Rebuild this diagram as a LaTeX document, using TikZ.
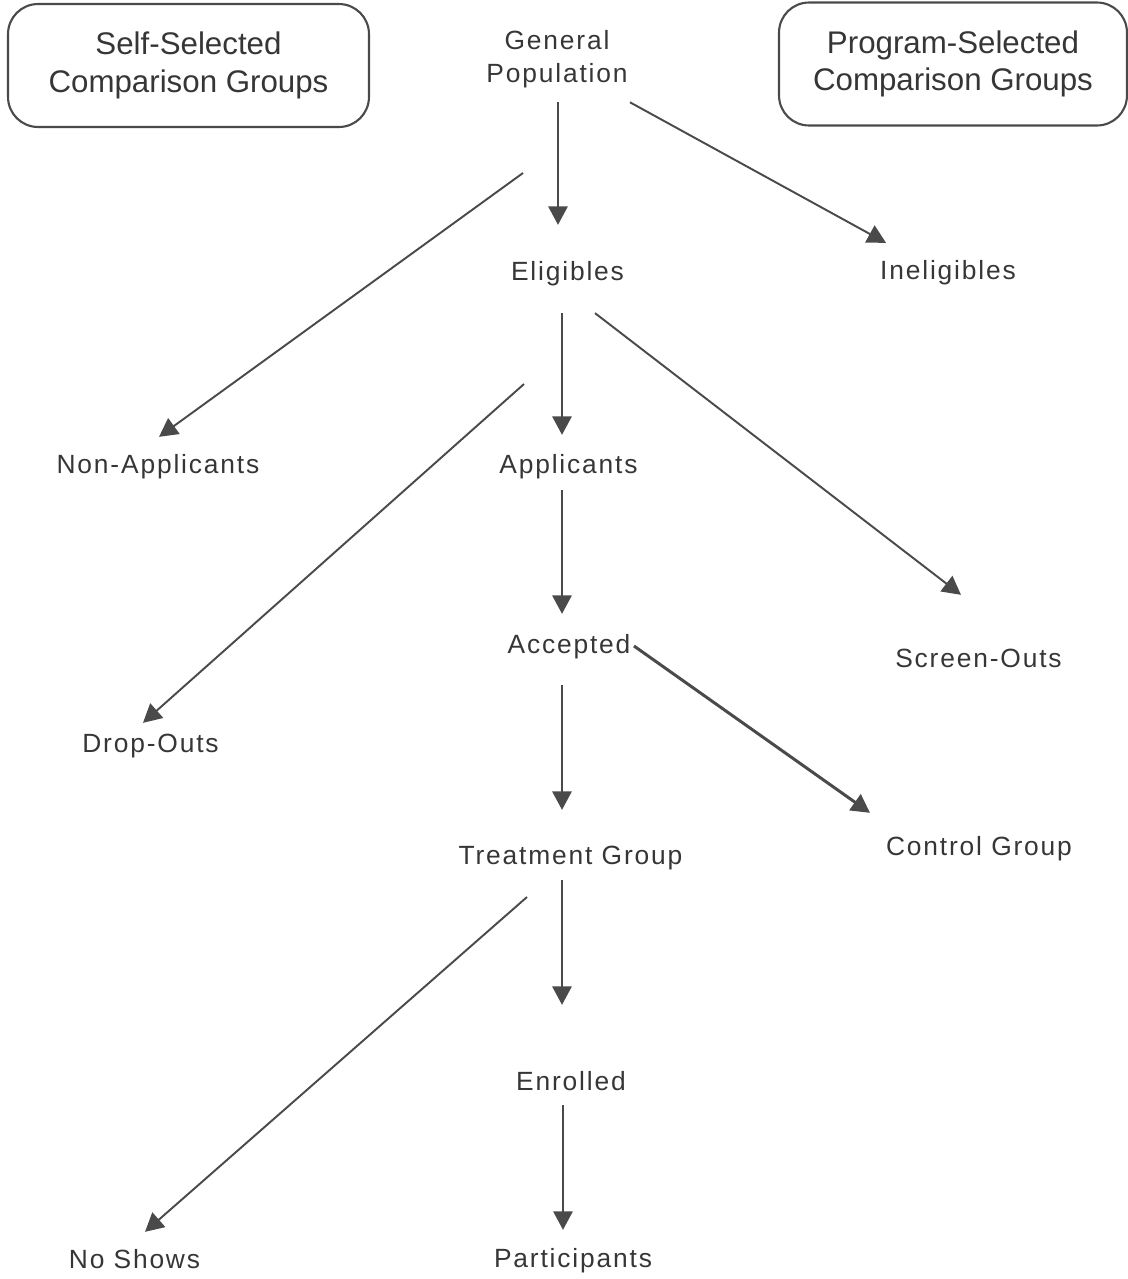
\documentclass[tikz,border=0pt]{standalone}
\usepackage{fontspec}
\setmainfont{Liberation Sans}
\newfontfamily\stagefont[LetterSpace=7]{Liberation Sans}
\usepackage{tikz}
\usetikzlibrary{arrows.meta}
\definecolor{ink}{HTML}{363636}
\definecolor{rule}{HTML}{4A4A4A}
\tikzstyle{stage} = [font=\stagefont\fontsize{15}{18.7}\selectfont, text=ink, inner sep=0pt, text height=11pt, text depth=3pt, anchor=base]
\tikzstyle{selbox} = [draw=rule, line width=1.2pt, rounded corners=0.6cm, align=center, text=ink, font=\fontsize{17.8}{21.5}\selectfont, minimum height=2.46cm]
\tikzstyle{flow} = [draw=rule, line width=1.1pt, -{Triangle[length=10.5pt,width=11pt]}]

\begin{document}
\begin{tikzpicture}[x=0.02cm, y=-0.02cm]
    \useasboundingbox (0,0) rectangle (1127,1279);
    \node[selbox, minimum width=7.22cm] (self) at (188.5,65.5) {Self-Selected\\Comparison Groups};
    \node[selbox, minimum width=6.96cm] (prog) at (953,64) {Program-Selected\\Comparison Groups};
    \node[font=\stagefont\fontsize{15}{18.7}\selectfont, text=ink, inner sep=0pt, text depth=3pt, align=center, anchor=south] (gp) at (557,88.3) {General\\Population};
    \node[stage] (elig) at (567.5,280) {Eligibles};
    \node[stage] (inel) at (948,279) {Ineligibles};
    \node[stage] (nonapp) at (158,473) {Non-Applicants};
    \node[stage] (appl) at (568.5,473) {Applicants};
    \node[stage] (acc) at (569,653) {Accepted};
    \node[stage] (scr) at (978.5,667) {Screen-Outs};
    \node[stage] (drop) at (150.5,752) {Drop-Outs};
    \node[stage] (treat) at (570.5,864) {Treatment Group};
    \node[stage] (ctrl) at (979,855) {Control Group};
    \node[stage] (enr) at (571,1090) {Enrolled};
    \node[stage] (noshow) at (134.5,1268) {No Shows};
    \node[stage] (part) at (573,1267) {Participants};
    \coordinate (nonappfrom) at (523,173);
    \coordinate (dropfrom) at (524,384);
    \coordinate (noshowfrom) at (527,897);
    \draw[flow] ([shift={(1,14)}]gp.south) -- ([shift={(-9.5,-35.5)}]elig.north);
    \draw[flow] ([shift={(73,14)}]gp.south) -- ([shift={(-62,-16.5)}]inel.north);
    \draw[flow] (nonappfrom) -- ([shift={(1,-16.5)}]nonapp.north);
    \draw[flow] ([shift={(-5.5,27.5)}]elig.south) -- ([shift={(-6.5,-18.5)}]appl.north);
    \draw[flow] (dropfrom) -- ([shift={(-7.5,-9.5)}]drop.north);
    \draw[flow] ([shift={(27.5,27.5)}]elig.south) -- ([shift={(-17.5,-52.5)}]scr.north);
    \draw[flow] ([shift={(-6.5,11.5)}]appl.south) -- ([shift={(-7,-19.5)}]acc.north);
    \draw[flow, line width=1.7pt] ([shift={(65,-7)}]acc.base) -- ([shift={(-109,-22.5)}]ctrl.north);
    \draw[flow] ([shift={(-7,26.5)}]acc.south) -- ([shift={(-8.5,-34.5)}]treat.north);
    \draw[flow] (noshowfrom) -- ([shift={(10.5,-16.5)}]noshow.north);
    \draw[flow] ([shift={(-8.5,10.5)}]treat.south) -- ([shift={(-9,-65.5)}]enr.north);
    \draw[flow] ([shift={(-8,9.5)}]enr.south) -- ([shift={(-10,-17.5)}]part.north);
\end{tikzpicture}
\end{document}
